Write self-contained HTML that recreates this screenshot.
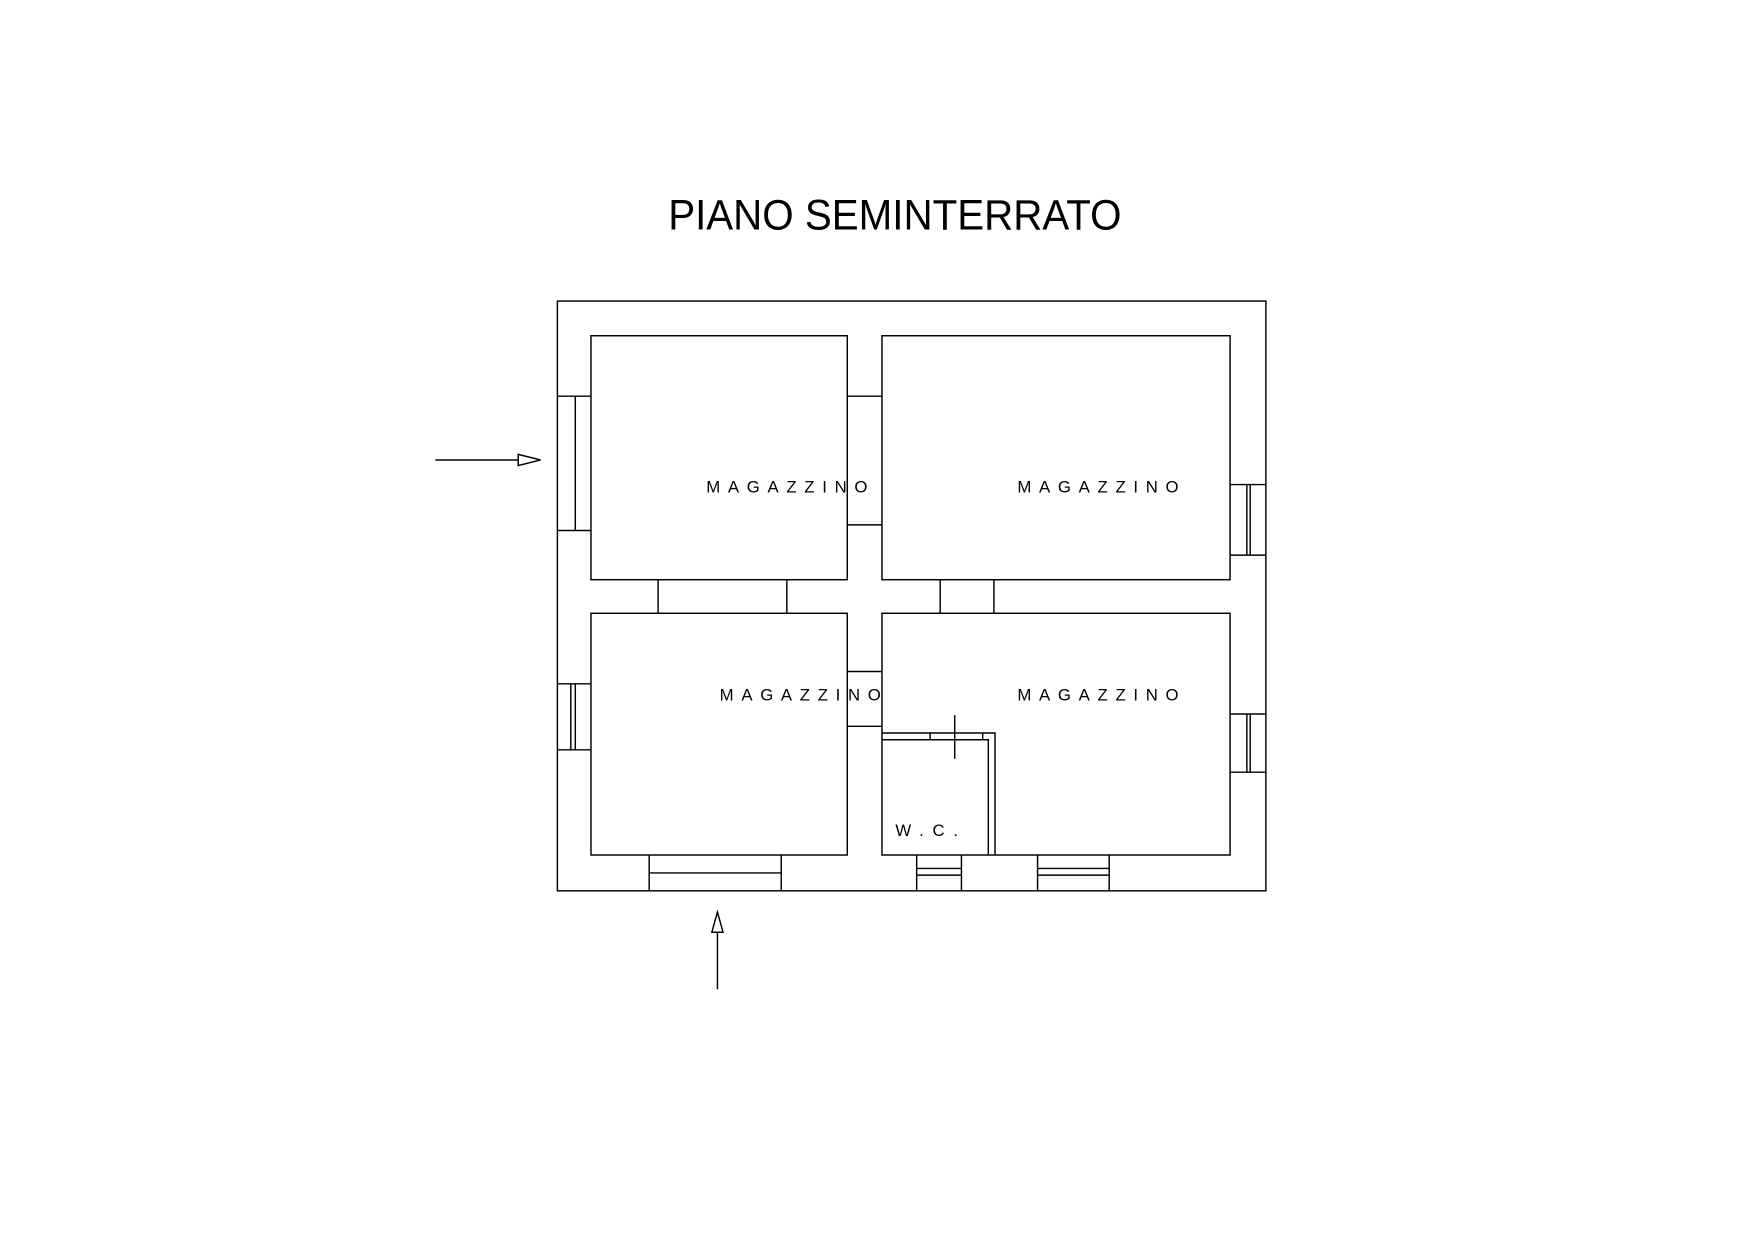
<!DOCTYPE html>
<html><head><meta charset="utf-8"><style>
html,body{margin:0;padding:0;background:#fff;}
svg{display:block;}
text{font-family:"Liberation Sans",sans-serif;fill:#000;}
</style></head><body>
<svg width="1755" height="1240" viewBox="0 0 1568 1108" preserveAspectRatio="none" xmlns="http://www.w3.org/2000/svg">
<g fill="none" stroke="#000" stroke-width="1.3">
<rect x="498" y="269" width="633" height="527"/>
<rect x="528" y="300" width="229" height="218"/>
<rect x="788" y="300" width="311" height="218"/>
<rect x="528" y="548" width="229" height="216"/>
<rect x="788" y="548" width="311" height="216"/>
<!-- left windows -->
<path d="M498 354H528M498 474H528M514 354V474"/>
<path d="M498 611H528M498 670H528M510 611V670M514 611V670"/>
<!-- right windows -->
<path d="M1099 433H1131M1099 496H1131M1114 433V496M1117 433V496"/>
<path d="M1099 638H1131M1099 690H1131M1114 638V690M1117 638V690"/>
<!-- doors -->
<path d="M757 354H788M757 469H788"/>
<path d="M757 600H788M757 649H788"/>
<path d="M588 518V548M703 518V548"/>
<path d="M840 518V548M888 518V548"/>
<!-- bottom windows -->
<path d="M580 764V796M698 764V796M580 780H698"/>
<path d="M819 764V796M859 764V796M819 776H859M819 782H859"/>
<path d="M927 764V796M991 764V796M927 776H991M927 782H991"/>
<!-- WC -->
<path d="M788 655H889V764M788 661H883V764M831 655V661M878 655V661"/>
<path d="M853 639V678"/>
<!-- arrows -->
<path d="M389 411H463"/>
<path d="M463 406L483 411L463 416Z"/>
<path d="M641 884V833"/>
<path d="M636 833L641 815L646 833Z"/>
</g>
<text x="597" y="205" font-size="38" textLength="405" lengthAdjust="spacingAndGlyphs">PIANO SEMINTERRATO</text>
<text x="631" y="440" font-size="15" textLength="144" lengthAdjust="spacing">MAGAZZINO</text>
<text x="909" y="440" font-size="15" textLength="144" lengthAdjust="spacing">MAGAZZINO</text>
<text x="643" y="626" font-size="15" textLength="144" lengthAdjust="spacing">MAGAZZINO</text>
<text x="909" y="626" font-size="15" textLength="144" lengthAdjust="spacing">MAGAZZINO</text>
<text x="800" y="747" font-size="15" textLength="56" lengthAdjust="spacing">W.C.</text>
</svg>
</body></html>
